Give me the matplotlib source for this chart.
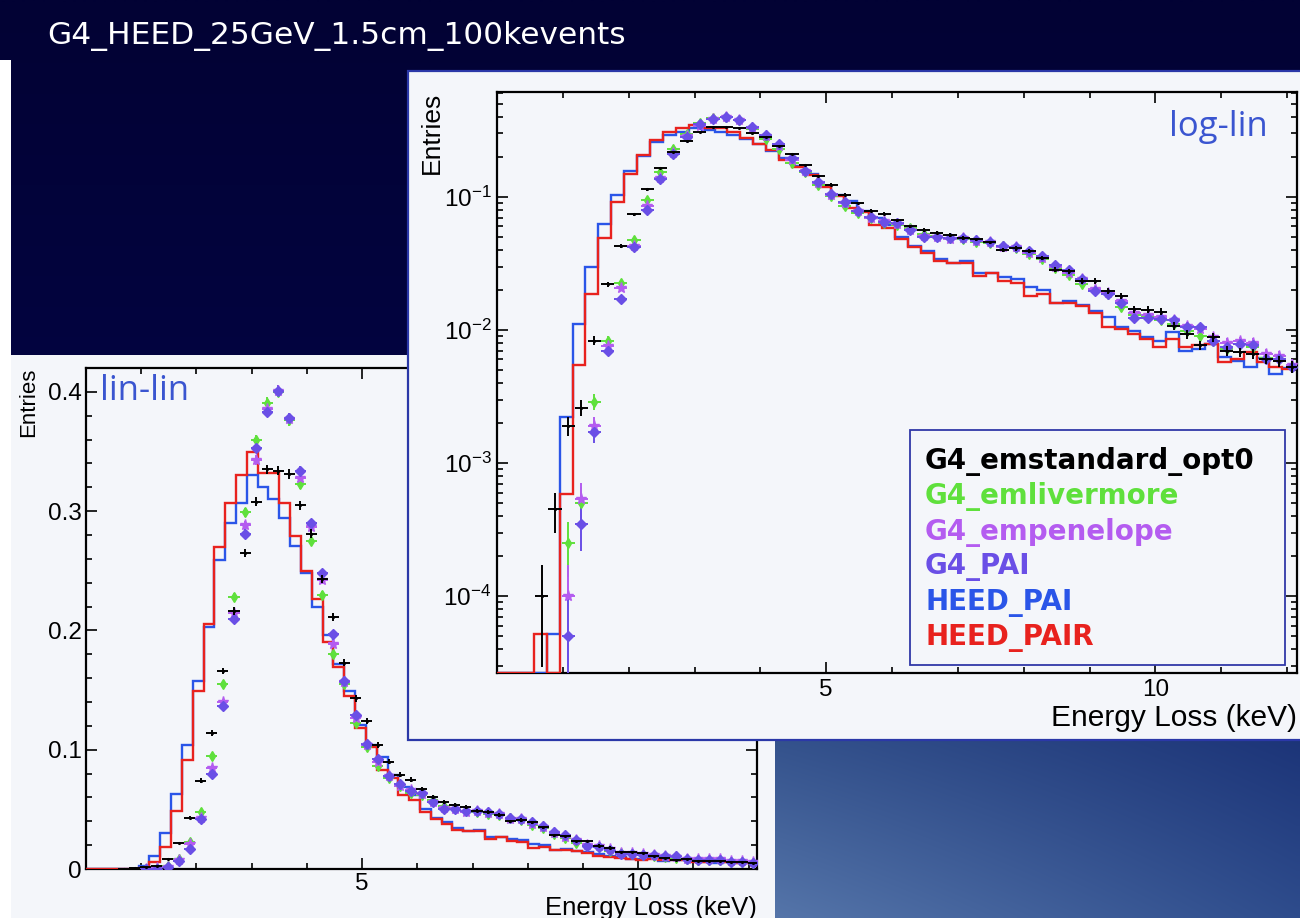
import numpy as np
import matplotlib
matplotlib.use("Agg")
import matplotlib.pyplot as plt
from matplotlib.patches import Rectangle
from matplotlib.ticker import MultipleLocator, LogLocator, NullFormatter, FixedLocator, FuncFormatter

plt.rcParams['font.family'] = ['Liberation Sans', 'DejaVu Sans']
plt.rcParams['mathtext.fontset'] = 'custom'
plt.rcParams['mathtext.rm'] = 'Liberation Sans'

# ---------------------------------------------------------------- data
title = "G4_HEED_25GeV_1.5cm_100kevents"
n_events = 100000
x_max = 12.15

# HEED histograms (normalised entries per bin)
heed_first_edge = 0.56
heed_bin_width = 0.196
heed_pai = [0, 5.2e-5, 2.2e-3, 0.011, 0.030, 0.063, 0.104, 0.158, 0.203, 0.259,
            0.29, 0.307, 0.33, 0.32, 0.31, 0.294, 0.271, 0.248, 0.22, 0.196,
            0.172, 0.149, 0.121, 0.104, 0.094, 0.079, 0.069, 0.062, 0.05, 0.043,
            0.039, 0.034, 0.032, 0.033, 0.027, 0.027, 0.025, 0.024, 0.021, 0.020,
            0.016, 0.0165, 0.0155, 0.014, 0.0125, 0.0105, 0.0098, 0.0088, 0.0082, 0.0096,
            0.007, 0.0072, 0.0078, 0.0063, 0.0058, 0.0053, 0.0062, 0.0047, 0.0052]
heed_pair = [5.2e-5, 0, 5.9e-4, 0.0055, 0.0186, 0.049, 0.091, 0.149, 0.205, 0.27,
             0.307, 0.33, 0.35, 0.332, 0.332, 0.307, 0.279, 0.25, 0.226, 0.19,
             0.169, 0.145, 0.118, 0.102, 0.083, 0.0765, 0.062, 0.058, 0.048, 0.042,
             0.038, 0.033, 0.032, 0.032, 0.0255, 0.027, 0.0235, 0.0225, 0.018, 0.0188,
             0.016, 0.016, 0.0152, 0.0135, 0.0105, 0.0102, 0.0094, 0.0086, 0.0074, 0.0086,
             0.0074, 0.0077, 0.0079, 0.0057, 0.0061, 0.0068, 0.0057, 0.0053, 0.0051]

# Geant4 physics lists (points, 0.2 keV bins)
g4_first_center = 0.68
g4_bin_width = 0.2
g4_emstandard_opt0 = [1.0e-4, 4.5e-4, 1.9e-3, 2.6e-3, 8.3e-3, 0.022, 0.043, 0.074, 0.114, 0.166,
                      0.216, 0.265, 0.308, 0.335, 0.334, 0.331, 0.305, 0.281, 0.243, 0.211,
                      0.173, 0.143, 0.124, 0.104, 0.090, 0.079, 0.075, 0.067, 0.060, 0.0565,
                      0.054, 0.052, 0.049, 0.048, 0.0455, 0.040, 0.041, 0.039, 0.0348, 0.0284,
                      0.0276, 0.0233, 0.0233, 0.0196, 0.018, 0.0143, 0.0142, 0.0137, 0.0108, 0.0093,
                      0.0077, 0.0088, 0.007, 0.0068, 0.0066, 0.0061, 0.0058, 0.0053]
g4_emlivermore = [0, 0, 2.5e-4, 5.0e-4, 2.9e-3, 8.3e-3, 0.0227, 0.0475, 0.095, 0.155,
                  0.228, 0.299, 0.36, 0.391, 0.40, 0.376, 0.323, 0.275, 0.23, 0.18,
                  0.155, 0.122, 0.102, 0.086, 0.076, 0.070, 0.064, 0.062, 0.058, 0.053,
                  0.051, 0.049, 0.048, 0.046, 0.045, 0.043, 0.041, 0.037, 0.034, 0.029,
                  0.026, 0.022, 0.020, 0.0185, 0.015, 0.013, 0.0125, 0.0118, 0.011, 0.0098,
                  0.009, 0.0082, 0.0072, 0.0078, 0.0074, 0.0062, 0.006, 0.0054]
g4_empenelope = [0, 0, 1.0e-4, 5.4e-4, 1.9e-3, 7.6e-3, 0.0206, 0.043, 0.085, 0.14,
                 0.215, 0.288, 0.343, 0.386, 0.401, 0.377, 0.328, 0.287, 0.242, 0.189,
                 0.157, 0.127, 0.104, 0.09, 0.078, 0.07, 0.066, 0.063, 0.056, 0.051,
                 0.05, 0.048, 0.049, 0.047, 0.046, 0.042, 0.042, 0.038, 0.035, 0.030,
                 0.027, 0.024, 0.0205, 0.019, 0.0165, 0.0135, 0.013, 0.0125, 0.0118, 0.0107,
                 0.0102, 0.0088, 0.008, 0.0082, 0.008, 0.0066, 0.0064, 0.0055]
g4_pai = [0, 0, 5e-5, 3.5e-4, 1.7e-3, 7.0e-3, 0.017, 0.042, 0.080, 0.137,
          0.21, 0.281, 0.353, 0.383, 0.401, 0.378, 0.334, 0.29, 0.248, 0.197,
          0.158, 0.129, 0.105, 0.092, 0.078, 0.071, 0.065, 0.064, 0.0565, 0.0504,
          0.0504, 0.049, 0.049, 0.0476, 0.046, 0.043, 0.042, 0.039, 0.0358, 0.031,
          0.0284, 0.024, 0.0196, 0.0185, 0.016, 0.0124, 0.0124, 0.012, 0.0119, 0.0105,
          0.0105, 0.0083, 0.0074, 0.0079, 0.0077, 0.0061, 0.0061, 0.0053]

labels = ["G4_emstandard_opt0", "G4_emlivermore", "G4_empenelope",
          "G4_PAI", "HEED_PAI", "HEED_PAIR"]
colors = ["#000000", "#5fe03c", "#b45cf0", "#6a4fe6", "#2a55e8", "#e8221e"]
markers = [".", "d", "*", "D"]
marker_sizes = [2.5, 5.5, 8, 4.8]

# ---------------------------------------------------------------- figure
W, H = 1300, 918
fig = plt.figure(figsize=(W / 100, H / 100), dpi=100)


def fx(px):
    return px / W


def fy(py):
    return 1 - py / H


# slide background: deep navy, with a blue gradient in the lower right corner
bg = fig.add_axes([0, 0, 1, 1], zorder=0)
yy = np.linspace(0, 1, 200)[:, None, None]
navy_top = np.array([2, 2, 52]) / 255
navy_bot = np.array([4, 7, 82]) / 255
sky = navy_top * (1 - yy) + navy_bot * yy
sky = np.repeat(sky, 2, axis=1)
bg.imshow(sky, extent=[0, 1, 0, 1], aspect='auto', origin='upper', interpolation='bilinear')

c_tl = np.array([52, 82, 140]) / 255
c_bl = np.array([86, 118, 170]) / 255
c_tr = np.array([28, 52, 120]) / 255
c_br = np.array([46, 76, 140]) / 255
v = np.linspace(0, 1, 60)[:, None, None]
u = np.linspace(0, 1, 120)[None, :, None]
corner = (c_tl * (1 - u) * (1 - v) + c_tr * u * (1 - v) + c_bl * (1 - u) * v + c_br * u * v)
bg.imshow(corner, extent=[fx(760), 1, 0, fy(735)], aspect='auto', origin='upper',
          interpolation='bilinear')
bg.set_xlim(0, 1)
bg.set_ylim(0, 1)
bg.axis('off')
bg.add_patch(Rectangle((0, 0), fx(11), 1 - 60 / H, facecolor='white', edgecolor='none'))

fig.text(fx(47), fy(36), title, color='white', fontsize=22.5,
         family='DejaVu Sans', va='center', ha='left', zorder=1)

panel_face = '#f4f6fa'
# lin-lin panel
fig.patches.append(Rectangle((fx(11), 0), fx(775 - 11), fy(355), transform=fig.transFigure,
                             facecolor=panel_face, edgecolor='none', zorder=1))
ax_lin = fig.add_axes([fx(86), fy(869), fx(757 - 86), (869 - 368) / H], zorder=2)
# log-lin panel
fig.patches.append(Rectangle((fx(408), fy(740)), fx(1300 - 408) + 0.01, (740 - 71) / H,
                             transform=fig.transFigure, facecolor=panel_face,
                             edgecolor='#2b38a8', linewidth=1.6, zorder=3))
ax_log = fig.add_axes([fx(497), fy(673), fx(1297 - 497), (673 - 92) / H], zorder=4)

log_ylim = (2.64e-5, 0.615)
lin_ylim = (0.0, 0.42)


def draw_spectra(ax, log):
    ymin = log_ylim[0] if log else 0.0
    edges = np.concatenate(([0.0], heed_first_edge + heed_bin_width * np.arange(len(heed_pair) + 1)))
    for vals, color in [(heed_pai, colors[4]), (heed_pair, colors[5])]:
        vv = np.concatenate(([0.0], vals))
        vv = np.maximum(vv, ymin)
        ax.stairs(vv, edges, baseline=None, color=color, lw=1.7, zorder=3)

    unit = 1.0 / (n_events * g4_bin_width)
    series = [g4_emlivermore, g4_empenelope, g4_pai, g4_emstandard_opt0]
    order = [1, 2, 3, 0]
    for vals, k in zip(series, order):
        val = np.asarray(vals, dtype=float)
        x = g4_first_center + g4_bin_width * np.arange(len(val))
        m = val > 0
        err = np.sqrt(val * unit)
        ax.errorbar(x[m], val[m], yerr=err[m], xerr=g4_bin_width / 2,
                    fmt=markers[k], ms=marker_sizes[k],
                    color=colors[k], mec=colors[k], mfc=colors[k],
                    elinewidth=1.4, capsize=0, zorder=4 + (k == 0))

    ax.set_xlim(0, x_max)
    ax.set_facecolor('none')
    ax.xaxis.set_major_locator(FixedLocator([5, 10]))
    ax.xaxis.set_minor_locator(MultipleLocator(1))
    ax.tick_params(which='both', direction='in', top=True, right=True, width=1.2)
    ax.tick_params(which='major', length=8)
    ax.tick_params(which='minor', length=4)
    for s in ax.spines.values():
        s.set_linewidth(1.6)


# ---- lin-lin
draw_spectra(ax_lin, log=False)
ax_lin.set_ylim(*lin_ylim)
ax_lin.yaxis.set_major_locator(MultipleLocator(0.1))
ax_lin.yaxis.set_minor_locator(MultipleLocator(0.02))
ax_lin.yaxis.set_major_formatter(FuncFormatter(lambda val, p: "0" if abs(val) < 1e-9 else f"{val:.1f}"))
ax_lin.tick_params(labelsize=17.5, pad=3)
ax_lin.text(-0.086, 1.0, "Entries", rotation=90, transform=ax_lin.transAxes,
            ha='center', va='top', fontsize=16)
ax_lin.text(1.0, -0.078, "Energy Loss (keV)", transform=ax_lin.transAxes,
            ha='right', va='center', fontsize=18.5)
ax_lin.text(0.021, 0.955, "lin-lin", transform=ax_lin.transAxes, ha='left', va='center',
            fontsize=25, color='#3a55d0', family='Open Sans')

# ---- log-lin
draw_spectra(ax_log, log=True)
ax_log.set_yscale('log')
ax_log.set_ylim(*log_ylim)
ax_log.yaxis.set_major_locator(LogLocator(base=10, numticks=10))
ax_log.yaxis.set_minor_locator(LogLocator(base=10, subs=np.arange(2, 10), numticks=20))
ax_log.yaxis.set_minor_formatter(NullFormatter())
ax_log.tick_params(labelsize=17.5, pad=4)
ax_log.text(-0.081, 1.0, "Entries", rotation=90, transform=ax_log.transAxes,
            ha='center', va='top', fontsize=19)
ax_log.text(1.0, -0.077, "Energy Loss (keV)", transform=ax_log.transAxes,
            ha='right', va='center', fontsize=21.5)
ax_log.text(0.963, 0.94, "log-lin", transform=ax_log.transAxes, ha='right', va='center',
            fontsize=25, color='#3a55d0', family='Open Sans')

# legend box
lx0, lx1 = (910 - 497) / 800, (1285 - 497) / 800
ly0, ly1 = (673 - 665) / 581, (673 - 430) / 581
ax_log.add_patch(Rectangle((lx0, ly0), lx1 - lx0, ly1 - ly0, transform=ax_log.transAxes,
                           facecolor=panel_face, edgecolor='#3038a8', linewidth=1.3, zorder=6))
for i, (lab, col) in enumerate(zip(labels, colors)):
    ax_log.text(0.535, 0.364 - i * 0.0608, lab, transform=ax_log.transAxes,
                ha='left', va='center', color=col, fontsize=20, fontweight='bold',
                family='DejaVu Sans', zorder=7)

fig.savefig("out.png", dpi=100)
